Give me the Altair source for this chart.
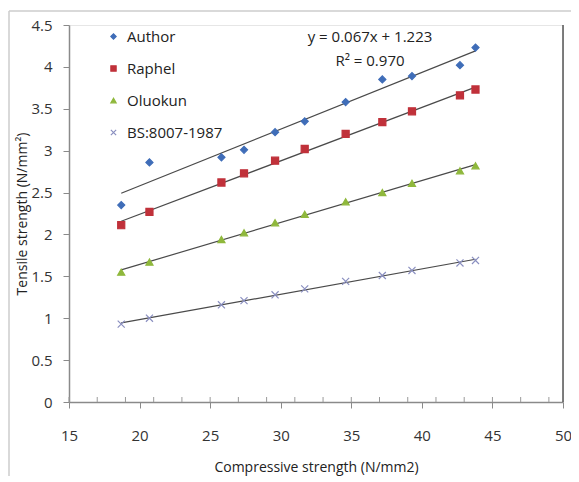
import altair as alt
import pandas as pd

# Data
compressive = [18.7, 20.7, 25.8, 27.4, 29.6, 31.7, 34.6, 37.2, 39.3, 42.7, 43.8]
author = [2.35, 2.86, 2.92, 3.01, 3.22, 3.35, 3.58, 3.85, 3.89, 4.02, 4.23]
raphel = [2.11, 2.27, 2.62, 2.73, 2.88, 3.02, 3.20, 3.34, 3.47, 3.66, 3.73]
oluokun = [1.55, 1.67, 1.94, 2.02, 2.14, 2.24, 2.39, 2.50, 2.61, 2.76, 2.82]
bs8007 = [0.93, 1.00, 1.16, 1.21, 1.28, 1.35, 1.44, 1.51, 1.57, 1.66, 1.69]

series_names = ["Author", "Raphel", "Oluokun", "BS:8007-1987"]
series_values = [author, raphel, oluokun, bs8007]
series_colors = ["#3F6DB8", "#C0313A", "#8FB83C", "#8A8FC0"]
x_shape = "M-1,-1L1,1M-1,1L1,-1"
series_shapes = ["diamond", "square", "triangle-up", x_shape]

x_ticks = [15, 20, 25, 30, 35, 40, 45, 50]
y_ticks = [0, 0.5, 1, 1.5, 2, 2.5, 3, 3.5, 4, 4.5]
minor_ticks = [15, 17, 19, 21, 23, 25, 27, 29, 31, 33, 35, 37, 39, 41, 43, 45, 47, 49]
equation_line1 = "y = 0.067x + 1.223"
equation_line2 = "R² = 0.970"

rows = []
for name, vals in zip(series_names, series_values):
    for xv, yv in zip(compressive, vals):
        rows.append({"series": name, "x": xv, "y": yv})
df = pd.DataFrame(rows)

W, H = 494, 377
FONT = "Open Sans"

xscale = alt.Scale(domain=[15, 50], nice=False, zero=False)
yscale = alt.Scale(domain=[0, 4.5], nice=False)
x_axis = alt.Axis(title="Compressive strength (N/mm2)", values=x_ticks, tickSize=6,
                  labelPadding=20, titlePadding=17, labelFlush=False)
y_axis = alt.Axis(title="Tensile strength (N/mm²)", values=y_ticks, format="~g",
                  tickSize=6, labelPadding=11, titlePadding=1, labelFlush=False)

color_scale = alt.Scale(domain=series_names, range=series_colors)
shape_scale = alt.Scale(domain=series_names, range=series_shapes)

base = alt.Chart(df)

points = base.mark_point(filled=True, size=50, strokeWidth=1.2, opacity=1).encode(
    x=alt.X("x:Q", scale=xscale, axis=x_axis),
    y=alt.Y("y:Q", scale=yscale, axis=y_axis),
    color=alt.Color("series:N", scale=color_scale, sort=series_names,
                    legend=alt.Legend(title=None, orient="none", legendX=37, legendY=4,
                                      labelFontSize=15, labelFont=FONT, labelColor="#222222",
                                      symbolSize=28, rowPadding=16, labelOffset=6,
                                      symbolStrokeWidth=1.2)),
    stroke=alt.Stroke("series:N", scale=color_scale, sort=series_names, legend=None),
    shape=alt.Shape("series:N", scale=shape_scale, sort=series_names),
)

trend = base.transform_regression("x", "y", groupby=["series"]).mark_line(
    color="#4a4a4a", strokeWidth=1.2
).encode(x=alt.X("x:Q", scale=xscale, axis=x_axis),
         y=alt.Y("y:Q", scale=yscale, axis=y_axis), detail="series:N")

minor = alt.Chart(pd.DataFrame({"t": minor_ticks})).mark_rule(color="#9a9a9a", strokeWidth=1).encode(
    x=alt.X("t:Q", scale=xscale, axis=x_axis), y=alt.value(H), y2=alt.value(H - 5)
)

one = pd.DataFrame({"t": [0]})
right_border = alt.Chart(one).mark_rule(color="#555555", strokeWidth=1.5).encode(
    x=alt.value(W), y=alt.value(0), y2=alt.value(H)
)
frame_left = alt.Chart(one).mark_rule(color="#cccccc", strokeWidth=1.5).encode(
    x=alt.value(-60), y=alt.value(-14), y2=alt.value(H + 100)
)
frame_top = alt.Chart(one).mark_rule(color="#cccccc", strokeWidth=1.5).encode(
    x=alt.value(-60), x2=alt.value(W + 20), y=alt.value(-14)
)

eq1 = alt.Chart(pd.DataFrame({"line": [equation_line1]})).mark_text(
    font=FONT, fontSize=15, color="#222222", align="center", baseline="middle"
).encode(text="line:N", x=alt.value(301), y=alt.value(12))

eq2 = alt.Chart(pd.DataFrame({"line": [equation_line2]})).mark_text(
    font=FONT, fontSize=15, color="#222222", align="center", baseline="middle"
).encode(text="line:N", x=alt.value(301), y=alt.value(36))

chart = alt.layer(frame_left, frame_top, minor, right_border, trend, points, eq1, eq2).properties(
    width=W, height=H,
    padding={"left": 61, "top": 17, "right": 8, "bottom": 74},
    autosize=alt.AutoSizeParams(type="none"),
).configure_view(stroke="#e6e6e6", strokeWidth=1).configure_axis(
    grid=False, zindex=2,
    domainColor="#8a8a8a", tickColor="#8a8a8a", labelColor="#333333", titleColor="#222222",
    labelFont=FONT, titleFont=FONT, labelFontSize=15, titleFontSize=14, titleFontWeight="normal",
    domainWidth=1.5,
)

chart.save("out.html", embed_options={"renderer": "svg", "actions": False})
